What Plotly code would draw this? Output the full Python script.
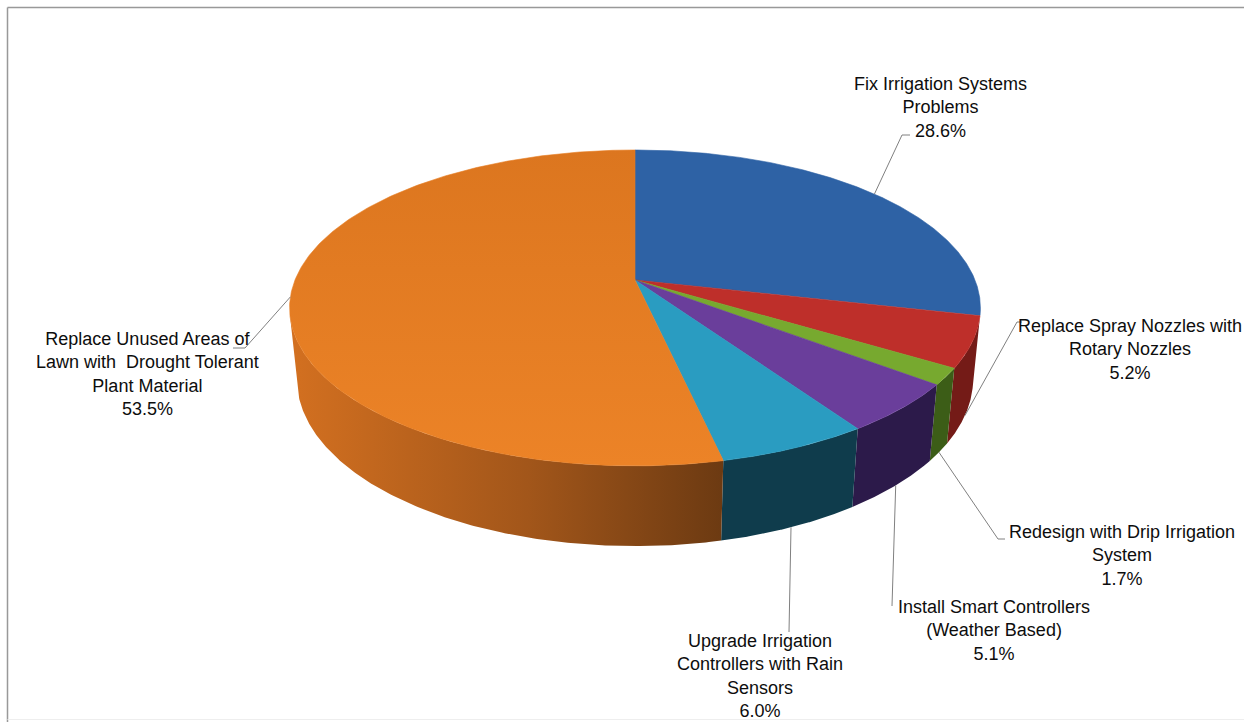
import numpy as np
import plotly.graph_objects as go

# ---------------- data ----------------
categories = [
    "Fix Irrigation Systems Problems",
    "Replace Spray Nozzles with Rotary Nozzles",
    "Redesign with Drip Irrigation System",
    "Install Smart Controllers (Weather Based)",
    "Upgrade Irrigation Controllers with Rain Sensors",
    "Replace Unused Areas of Lawn with Drought Tolerant Plant Material",
]
label_lines = [
    ["Fix Irrigation Systems", "Problems"],
    ["Replace Spray Nozzles with", "Rotary Nozzles"],
    ["Redesign with Drip Irrigation", "System"],
    ["Install Smart Controllers", "(Weather Based)"],
    ["Upgrade Irrigation", "Controllers with Rain", "Sensors"],
    ["Replace Unused Areas of", "Lawn with  Drought Tolerant", "Plant Material"],
]
values = [28.6, 5.2, 1.7, 5.1, 6.0, 53.5]

# ---------------- styles ----------------
top_colors = ["#2E62A5", "#BE2F2A", "#77A92F", "#6A3E9B", "#2A9CC1", "#E77E23"]
side_colors = ["#1C3C66", "#741B17", "#3C5D17", "#2C1A4A", "#0F3C4C", "#A85A1A"]
orange_side_grad = [[0, "#D37020"], [0.55, "#A2561A"], [1, "#6C3A12"]]
orange_top_grad = [[0, "#EC8327"], [1, "#DC761F"]]
FONT = "Liberation Sans, Arial, sans-serif"

# label layout (centres, in page pixels) and leader elbows
label_pos = [(940, 107), (1130, 349), (1122, 555), (994, 630), (760, 676), (147, 374)]
leader_pts = [
    [(902, 135), (910, 135)],
    [(1017, 322), (1022, 322)],
    [(998, 539), (1005, 539)],
    [(892, 606)],
    [(789, 632)],
    [(245, 348), (233, 348)],
]

# ---------------- 3D projection of the pie ----------------
F, D = 1717.0, 5.05
S = 0.45
C = np.sqrt(1 - S * S)
H = 0.236
CX, CY = 635.0, 280.0


def proj(alpha_deg, y=0.0):
    a = np.radians(alpha_deg)
    X = np.sin(a)
    Z = np.cos(a)
    up = y * C + Z * S
    depth = D + Z * C - y * S
    return CX + F * X / depth, CY - F * up / depth


total = sum(values)
angles = np.concatenate([[0], np.cumsum(values) / total * 360.0])
vis_lo = np.degrees(np.arccos(-1 / (D * C)))
vis_hi = 360 - vis_lo

fig = go.Figure()

# side walls
for i in range(len(values)):
    a0, a1 = max(angles[i], vis_lo), min(angles[i + 1], vis_hi)
    if a1 <= a0:
        continue
    t = np.linspace(a0, a1, 200)
    xt, yt = proj(t, 0.0)
    xb, yb = proj(t[::-1], -H)
    xs = np.concatenate([xt, xb, xt[:1]])
    ys = np.concatenate([yt, yb, yt[:1]])
    kw = dict(fillcolor=side_colors[i])
    if i == len(values) - 1:
        kw["fillgradient"] = dict(type="horizontal", colorscale=orange_side_grad)
    fig.add_trace(go.Scatter(x=xs, y=ys, mode="lines", fill="toself",
                             line=dict(width=0, color=side_colors[i]),
                             hoverinfo="skip", showlegend=False, **kw))

# top faces
for i in range(len(values)):
    t = np.linspace(angles[i], angles[i + 1], 300)
    xr, yr = proj(t, 0.0)
    xs = np.concatenate([[CX], xr, [CX]])
    ys = np.concatenate([[CY], yr, [CY]])
    kw = dict(fillcolor=top_colors[i])
    if i == len(values) - 1:
        kw["fillgradient"] = dict(type="vertical", colorscale=orange_top_grad)
    fig.add_trace(go.Scatter(x=xs, y=ys, mode="lines", fill="toself",
                             line=dict(width=0.6, color=top_colors[i]),
                             hoverinfo="skip", showlegend=False, **kw))

# leader lines + labels
for i in range(len(values)):
    mid = (angles[i] + angles[i + 1]) / 2
    if vis_lo <= mid <= vis_hi:
        ax_, ay_ = proj(mid, -H)
    else:
        ax_, ay_ = proj(mid, 0.0)
    pts = [(float(ax_), float(ay_))] + leader_pts[i]
    fig.add_trace(go.Scatter(x=[p[0] for p in pts], y=[p[1] for p in pts],
                             mode="lines", line=dict(color="#808080", width=1),
                             hoverinfo="skip", showlegend=False))
    text = "<br>".join(label_lines[i] + [f"{values[i]:.1f}%"])
    fig.add_annotation(x=label_pos[i][0], y=label_pos[i][1], text=text,
                       showarrow=False, xanchor="center", yanchor="middle",
                       align="center", font=dict(family=FONT, size=18, color="#0d0d0d"))

# chart border
fig.add_shape(type="line", x0=7.5, y0=7.5, x1=1244, y1=7.5,
              line=dict(color="#999999", width=1.5))
fig.add_shape(type="line", x0=7.5, y0=7.5, x1=7.5, y1=722,
              line=dict(color="#999999", width=1.5))
fig.add_shape(type="line", x0=7.5, y0=719.5, x1=1244, y1=719.5,
              line=dict(color="#eeeeee", width=1))

fig.update_xaxes(range=[0, 1244], visible=False, showgrid=False, zeroline=False)
fig.update_yaxes(range=[722, 0], visible=False, showgrid=False, zeroline=False)
fig.update_layout(width=1244, height=722, margin=dict(l=0, r=0, t=0, b=0),
                  paper_bgcolor="white", plot_bgcolor="white", showlegend=False)

fig.write_html(
    "out.html",
    config={"displayModeBar": False},
    post_script="document.body.style.margin='0';document.body.style.overflow='hidden';",
)
